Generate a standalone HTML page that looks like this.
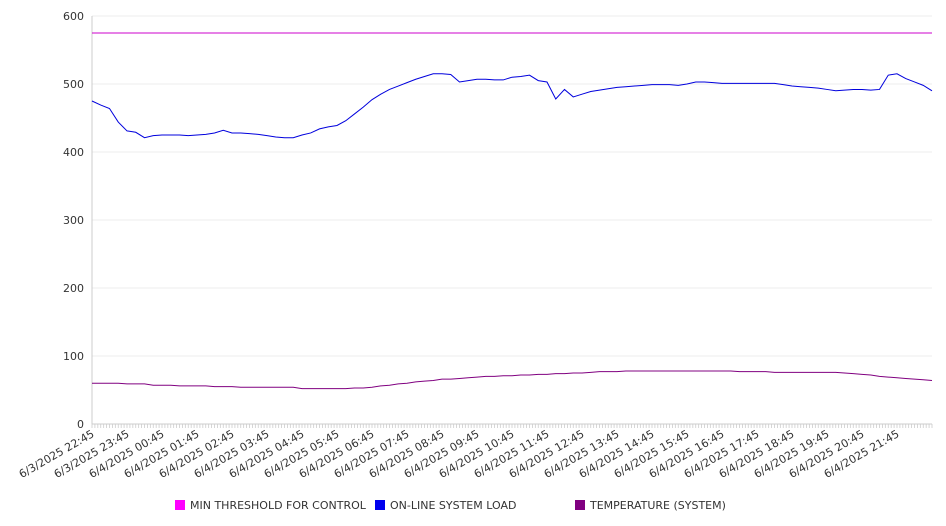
<!DOCTYPE html>
<html><head><meta charset="utf-8"><style>
html,body{margin:0;padding:0;background:#fff;}
svg{display:block;font-family:"DejaVu Sans","Liberation Sans",sans-serif;}
</style></head><body>
<svg id="chart" width="946" height="526" viewBox="0 0 946 526" xmlns="http://www.w3.org/2000/svg">
<g id="grid"></g>
<g id="yaxis"></g>
<g id="xaxis"></g>
<g id="series"></g>
<g id="legend">
  <g><rect x="175" y="500" width="10" height="10" fill="#ff00ff"/><text x="190" y="509" font-size="11" fill="#333">MIN THRESHOLD FOR CONTROL</text></g>
  <g><rect x="375" y="500" width="10" height="10" fill="#0000ee"/><text x="390" y="509" font-size="11" fill="#333">ON-LINE SYSTEM LOAD</text></g>
  <g><rect x="575" y="500" width="10" height="10" fill="#800080"/><text x="590" y="509" font-size="11" fill="#333">TEMPERATURE (SYSTEM)</text></g>
</g>
</svg>
<script>
const yTicks = [0,100,200,300,400,500,600];
const xLabels = ["6/3/2025 22:45","6/3/2025 23:45","6/4/2025 00:45","6/4/2025 01:45","6/4/2025 02:45","6/4/2025 03:45","6/4/2025 04:45","6/4/2025 05:45","6/4/2025 06:45","6/4/2025 07:45","6/4/2025 08:45","6/4/2025 09:45","6/4/2025 10:45","6/4/2025 11:45","6/4/2025 12:45","6/4/2025 13:45","6/4/2025 14:45","6/4/2025 15:45","6/4/2025 16:45","6/4/2025 17:45","6/4/2025 18:45","6/4/2025 19:45","6/4/2025 20:45","6/4/2025 21:45"];
const threshold = 575;
const load = [475,469,464,444,431,429,421,424,425,425,425,424,425,426,428,432,428,428,427,426,424,422,421,421,425,428,434,437,439,446,456,466,477,485,492,497,502,507,511,515,515,514,503,505,507,507,506,506,510,511,513,505,503,478,492,481,485,489,491,493,495,496,497,498,499,499,499,498,500,503,503,502,501,501,501,501,501,501,501,499,497,496,495,494,492,490,491,492,492,491,492,513,515,508,503,498,490];
const temp = [60,60,60,60,59,59,59,57,57,57,56,56,56,56,55,55,55,54,54,54,54,54,54,54,52,52,52,52,52,52,53,53,54,56,57,59,60,62,63,64,66,66,67,68,69,70,70,71,71,72,72,73,73,74,74,75,75,76,77,77,77,78,78,78,78,78,78,78,78,78,78,78,78,78,77,77,77,77,76,76,76,76,76,76,76,76,75,74,73,72,70,69,68,67,66,65,64];

const NS="http://www.w3.org/2000/svg";
const X0=92,X1=932,Y0=424,Y1=16,VMAX=600;
const stepsPerHour=4;
const nSteps=load.length-1;
const stepW=(X1-X0)/nSteps;
function xScale(i){return X0+i*stepW;}
function yScale(v){return Y0-(v/VMAX)*(Y0-Y1);}
function mk(tag,attrs,parent){const e=document.createElementNS(NS,tag);for(const k in attrs)e.setAttribute(k,attrs[k]);parent.appendChild(e);return e;}

const grid=document.getElementById('grid'),yaxis=document.getElementById('yaxis'),xaxis=document.getElementById('xaxis'),series=document.getElementById('series');
yTicks.forEach(v=>{
  const y=yScale(v);
  const gl=mk('line',{x1:X0,x2:X1,y1:y,y2:y,stroke:'#ececec','stroke-width':1},grid);
  
  
  const t=mk('text',{x:84,y:y+4,'text-anchor':'end','font-size':11,fill:'#333'},yaxis);
  t.textContent=v;
  
  
});
mk('line',{x1:X0,x2:X0,y1:Y1,y2:Y0,stroke:'#ccc'},yaxis);
mk('line',{x1:X0,x2:X1,y1:Y0,y2:Y0,stroke:'#ccc'},xaxis);
const minorCount=nSteps*3;
for(let k=0;k<=minorCount;k++){
  const x=X0+k*stepW/3;
  mk('line',{x1:x,x2:x,y1:Y0,y2:Y0+4,stroke:'#ccc','stroke-width':0.8},xaxis);
}
xLabels.forEach((s,i)=>{
  const x=xScale(i*stepsPerHour)+3;
  const t=mk('text',{x:x,y:Y0+12,'text-anchor':'end','font-size':11,fill:'#333',transform:`rotate(-30 ${x} ${Y0+12})`},xaxis);
  t.textContent=s;
  
  
});
function path(arr,color,name){
  const d=arr.map((v,i)=>(i?'L':'M')+xScale(i).toFixed(2)+','+yScale(v).toFixed(2)).join('');
  const p=mk('path',{d:d,fill:'none',stroke:color,'stroke-width':1},series);
  
  
}
const th=mk('line',{x1:X0,x2:X1,y1:yScale(threshold),y2:yScale(threshold),stroke:'#cc00cc','stroke-width':1},series);


path(load,'#0000dd','system-load-line');
path(temp,'#800080','temperature-line');
</script>
</body></html>
